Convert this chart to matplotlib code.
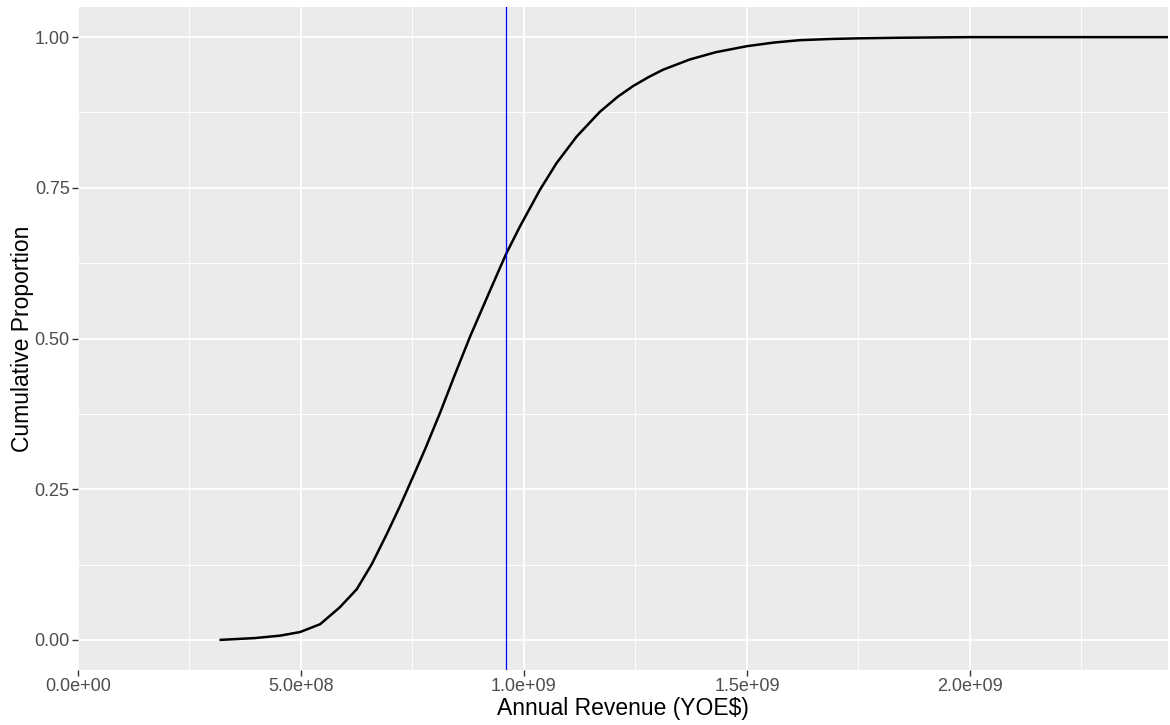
import matplotlib.pyplot as plt
from matplotlib.ticker import FixedLocator

# cumulative proportion curve
revenue = [3.20e8, 3.97e8, 4.53e8, 4.98e8, 5.43e8, 5.87e8, 6.25e8, 6.59e8, 6.92e8,
           7.22e8, 7.52e8, 7.78e8, 8.12e8, 8.45e8, 8.79e8, 9.20e8, 9.46e8, 9.61e8,
           9.91e8, 1.036e9, 1.073e9, 1.118e9, 1.170e9, 1.210e9, 1.245e9, 1.280e9,
           1.312e9, 1.372e9, 1.430e9, 1.500e9, 1.560e9, 1.619e9, 1.690e9, 1.749e9,
           1.843e9, 2.000e9, 2.444e9]
proportion = [0.000, 0.003, 0.007, 0.013, 0.026, 0.054, 0.084, 0.126, 0.175,
              0.222, 0.272, 0.316, 0.377, 0.440, 0.503, 0.573, 0.617, 0.642,
              0.686, 0.747, 0.791, 0.835, 0.876, 0.901, 0.919, 0.934,
              0.946, 0.963, 0.975, 0.985, 0.991, 0.995, 0.997, 0.998,
              0.999, 1.000, 1.000]
marker_value = 9.6e8

x_ticks = [0.0, 5.0e8, 1.0e9, 1.5e9, 2.0e9]
x_labels = ["0.0e+00", "5.0e+08", "1.0e+09", "1.5e+09", "2.0e+09"]
y_ticks = [0.0, 0.25, 0.5, 0.75, 1.0]
y_labels = ["0.00", "0.25", "0.50", "0.75", "1.00"]

plt.rcParams["font.family"] = ["Liberation Sans", "DejaVu Sans"]

fig = plt.figure(figsize=(11.7, 7.25), dpi=100)
ax = fig.add_axes([78 / 1170, 55 / 725, 1090 / 1170, 663 / 725])
ax.set_facecolor("#EBEBEB")

ax.set_xlim(0, 2.444e9)
ax.set_ylim(-0.05, 1.05)

ax.xaxis.set_major_locator(FixedLocator(x_ticks))
ax.xaxis.set_minor_locator(FixedLocator([2.5e8, 7.5e8, 1.25e9, 1.75e9, 2.25e9]))
ax.yaxis.set_major_locator(FixedLocator(y_ticks))
ax.yaxis.set_minor_locator(FixedLocator([0.125, 0.375, 0.625, 0.875]))
ax.set_xticklabels(x_labels)
ax.set_yticklabels(y_labels)

ax.grid(which="major", color="white", linewidth=1.3)
ax.grid(which="minor", color="white", linewidth=0.65)
ax.set_axisbelow(True)
for s in ax.spines.values():
    s.set_visible(False)

ax.tick_params(which="major", length=4, width=1, color="#333333",
               labelsize=13, labelcolor="#4D4D4D", pad=2)
ax.tick_params(which="minor", length=0)

ax.plot(revenue, proportion, color="black", linewidth=1.8,
        solid_joinstyle="round")
ax.axvline(marker_value, color="blue", linewidth=0.9)

ax.set_xlabel("Annual Revenue (YOE\\$)", fontsize=16.5, color="black", labelpad=1)
ax.set_ylabel("Cumulative Proportion", fontsize=16.5, color="black", labelpad=0)

fig.savefig("out.png", dpi=100)
